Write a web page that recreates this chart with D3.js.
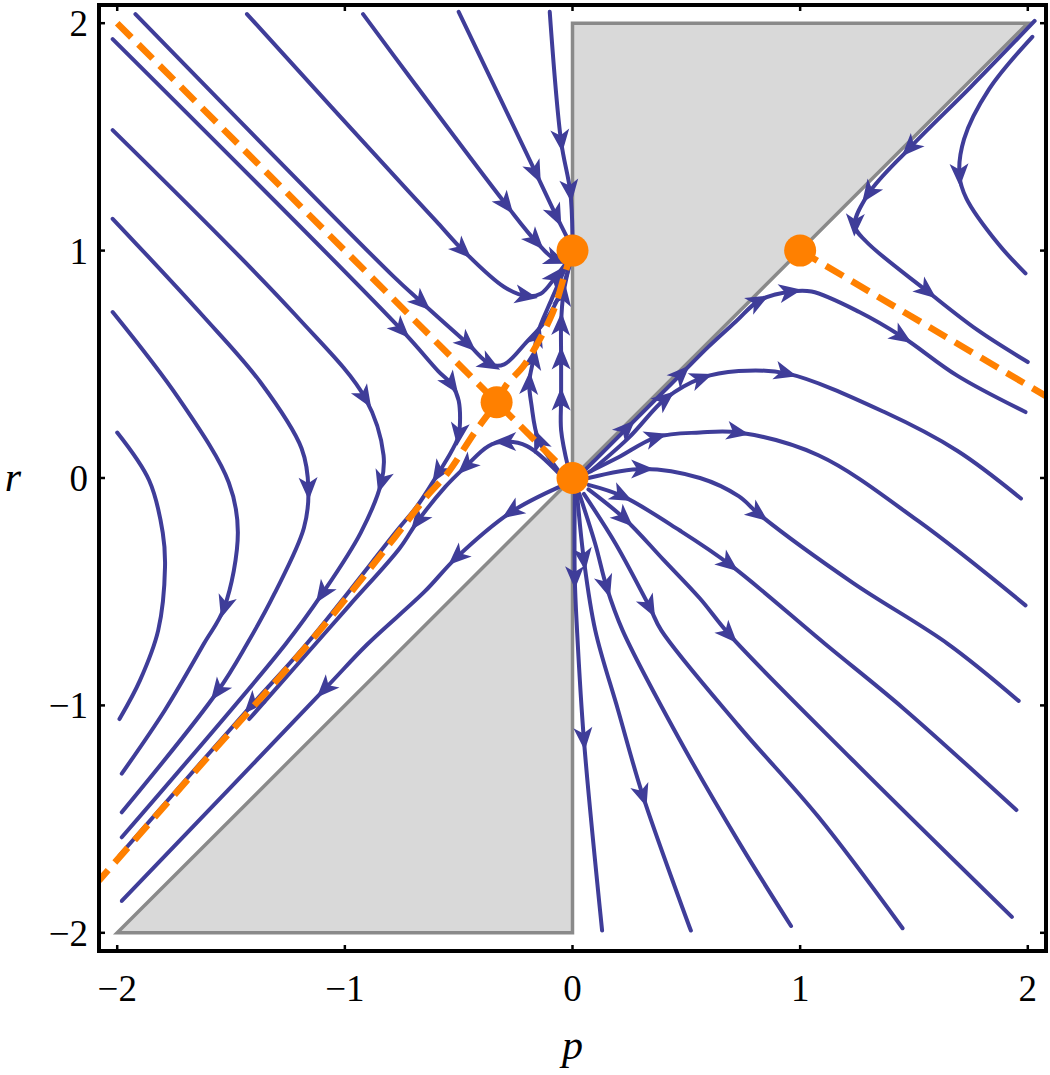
<!DOCTYPE html>
<html>
<head>
<style>
  body { margin: 0; background: #fff; }
  .tick-label { font-family: "Liberation Serif", "Times New Roman", serif; font-size: 37px; fill: #000; }
  .axis-title { font-family: "Liberation Serif", "Times New Roman", serif; font-style: italic; font-size: 42px; fill: #000; }
  .stream { stroke: #3f3d99; stroke-width: 4; fill: none; stroke-linecap: round; }
  .arrow { fill: #3f3d99; }
  .sep { stroke: #ff8000; stroke-width: 6.5; stroke-dasharray: 20 10; fill: none; }
  .region { fill: #d9d9d9; stroke: #8a8a8a; stroke-width: 3.5; }
</style>
</head>
<body>
<svg width="1050" height="1075"></svg>
<script src="https://d3js.org/d3.v7.min.js"></script>
<script>

// ticks
var xTicks = [-2, -1, 0, 1, 2];
var yTicks = [-2, -1, 0, 1, 2];

// fixed points and forbidden regions
var fixedPoints = [[0, 1], [-1/3, 1/3], [0, 0], [1, 1]];
var shadedRegions = [
  [[0, 0], [0, 2], [2, 2]],
  [[0, 0], [0, -2], [-2, -2]]
];

// orange dashed curves
var separatrices = [
  [[-2, 2], [0, 0]],
  [[0, 1], [-0.03, 0.91], [-0.09, 0.72], [-0.21, 0.50], [-0.29, 0.41], [-1/3, 1/3], [-0.43, 0.20],
   [-0.55, 0.02], [-0.64, -0.08], [-0.78, -0.26], [-1.16, -0.73], [-1.64, -1.27], [-2.08, -1.77]],
  [[1, 1], [2.08, 0.36]]
];

// streamlines running into the sink at (0,1)
var sinkLines = [
  {pts: [[-1.92,2.04],[-0.79,0.89],[-0.66,0.77],[-0.46,0.59],[-0.36,0.50],[-0.30,0.50],[-0.20,0.60],[-0.12,0.69],[-0.05,0.82],[-0.01,0.95]], arrows: [2,3,4]},
  {pts: [[-1.43,2.04],[-0.72,1.26],[-0.59,1.12],[-0.48,1.00],[-0.30,0.84],[-0.20,0.80],[-0.14,0.81],[-0.07,0.89],[-0.01,0.97]], arrows: [3,5,7]},
  {pts: [[-0.92,2.04],[-0.72,1.77],[-0.29,1.20],[-0.16,1.04],[-0.07,0.96],[-0.01,0.98]], arrows: [2,3,4]},
  {pts: [[-0.50,2.05],[-0.16,1.34],[-0.07,1.15],[-0.02,1.05]], arrows: [1,2]},
  {pts: [[-0.10,2.05],[-0.05,1.48],[-0.01,1.26],[0.0,1.07]], arrows: [1,2]},
  {pts: [[-0.02,0.05],[-0.05,0.21],[-0.05,0.35],[-0.05,0.53],[-0.05,0.68],[-0.04,0.81],[-0.01,0.95]], arrows: [2,3,4,5]},
  {pts: [[-0.06,0.03],[-0.15,0.17],[-0.18,0.32],[-0.19,0.42],[-0.17,0.53],[-0.155,0.63],[-0.09,0.79],[-0.02,0.95]], arrows: [1,3,4,5]}
];

// streamlines on the left half heading to the lower left
var leftLines = [
  {pts: [[-2.02,1.93],[-0.75,0.65],[-0.59,0.47],[-0.53,0.41],[-0.50,0.34],[-0.50,0.19],[-0.53,0.12],[-0.59,0.02],[-0.68,-0.12],[-0.77,-0.23],[-1.16,-0.72],[-1.41,-1.00],[-1.64,-1.26],[-1.99,-1.66]], arrows: [1,3,5,7,11]},
  {pts: [[-2.02,1.53],[-1.22,0.72],[-0.91,0.35],[-0.83,0.10],[-0.84,-0.02],[-0.93,-0.24],[-1.10,-0.51],[-1.26,-0.73],[-1.98,-1.58]], arrows: [2,4,6]},
  {pts: [[-2.02,1.14],[-1.63,0.72],[-1.37,0.42],[-1.19,0.13],[-1.16,-0.05],[-1.18,-0.22],[-1.31,-0.51],[-1.43,-0.73],[-1.56,-0.94],[-1.98,-1.47]], arrows: [4,8]},
  {pts: [[-2.02,0.73],[-1.73,0.35],[-1.51,-0.02],[-1.47,-0.24],[-1.53,-0.57],[-1.62,-0.73],[-1.79,-1.02],[-1.98,-1.30]], arrows: [4]},
  {pts: [[-2.00,0.20],[-1.86,-0.01],[-1.80,-0.24],[-1.79,-0.39],[-1.82,-0.67],[-1.90,-0.89],[-1.99,-1.06]], arrows: []},
  {pts: [[-0.06,0.02],[-0.20,0.14],[-0.30,0.16],[-0.37,0.14],[-0.47,0.05],[-0.56,-0.04],[-0.68,-0.19],[-0.76,-0.31],[-0.98,-0.56],[-1.20,-0.81],[-1.42,-1.06]], arrows: [2,4,6]},
  {pts: [[-0.06,-0.04],[-0.27,-0.15],[-0.51,-0.35],[-0.65,-0.50],[-0.90,-0.73],[-1.09,-0.93],[-1.98,-1.86]], arrows: [1,2,5]}
];

// streamlines leaving the source at (0,0) to the right
var rightLines = [
  {pts: [[0.05,0.03],[0.10,0.08],[0.24,0.22],[0.37,0.35],[0.48,0.46],[0.60,0.58],[0.72,0.69],[0.82,0.78],[0.96,0.82],[1.05,0.82],[1.26,0.73],[1.45,0.62],[1.69,0.45],[1.99,0.29]], arrows: [2,4,7,8,11]},
  {pts: [[0.08,0.03],[0.25,0.18],[0.41,0.35],[0.57,0.44],[0.73,0.47],[0.94,0.46],[1.37,0.29],[1.69,0.12],[1.97,-0.09]], arrows: [2,3,5]},
  {pts: [[0.06,0.02],[0.20,0.09],[0.37,0.18],[0.56,0.20],[0.73,0.20],[1.08,0.10],[1.52,-0.19],[1.99,-0.56]], arrows: [2,4]},
  {pts: [[0.07,0.00],[0.31,0.04],[0.56,0.00],[0.73,-0.08],[0.82,-0.16],[1.23,-0.46],[1.65,-0.73],[1.96,-0.98]], arrows: [1,4]},
  {pts: [[0.07,-0.03],[0.22,-0.08],[0.47,-0.23],[0.69,-0.38],[1.11,-0.73],[1.45,-1.01],[1.95,-1.46]], arrows: [1,3]},
  {pts: [[0.07,-0.05],[0.23,-0.18],[0.40,-0.36],[0.56,-0.53],[0.69,-0.69],[1.23,-1.24],[1.93,-1.93]], arrows: [1,4]},
  {pts: [[0.05,-0.07],[0.19,-0.29],[0.34,-0.57],[0.39,-0.67],[0.73,-1.09],[1.08,-1.49],[1.45,-1.98]], arrows: [2]},
  {pts: [[0.03,-0.07],[0.10,-0.29],[0.15,-0.48],[0.22,-0.67],[0.47,-1.15],[0.73,-1.60],[0.96,-1.97]], arrows: [2]},
  {pts: [[0.02,-0.07],[0.05,-0.36],[0.10,-0.67],[0.20,-1.02],[0.31,-1.40],[0.52,-1.99]], arrows: [1,4]},
  {pts: [[0.01,-0.07],[0.01,-0.44],[0.02,-0.67],[0.05,-1.15],[0.13,-1.99]], arrows: [1,3]}
];

// streamlines in the upper right corner
var cornerLines = [
  {pts: [[2.03,2.01],[1.75,1.72],[1.48,1.45],[1.30,1.25],[1.24,1.11],[1.29,1.04],[1.56,0.82],[1.78,0.65],[2.00,0.51]], arrows: [2,3,4,6]},
  {pts: [[2.02,1.94],[1.83,1.71],[1.72,1.49],[1.70,1.33],[1.73,1.23],[1.87,1.03],[1.99,0.90]], arrows: [3]}
];

var margin = {top: 5, right: 4, bottom: 124, left: 99},
    width = 1050 - margin.left - margin.right,
    height = 1075 - margin.top - margin.bottom;

var x = d3.scaleLinear().domain([-2.08, 2.08]).range([0, width]);
var y = d3.scaleLinear().domain([-2.08, 2.08]).range([height, 0]);

var svg = d3.select("svg")
  .append("g")
  .attr("transform", "translate(" + margin.left + "," + margin.top + ")");

svg.append("clipPath").attr("id", "plotclip")
  .append("rect").attr("width", width).attr("height", height);

var plot = svg.append("g").attr("clip-path", "url(#plotclip)");

// shaded triangles
var poly = d3.line().x(function(d) { return x(d[0]); }).y(function(d) { return y(d[1]); });
plot.selectAll(".region")
  .data(shadedRegions)
  .enter().append("path")
  .attr("class", "region")
  .attr("d", function(d) { return poly(d) + "Z"; });

// streamlines
var curve = d3.line()
  .x(function(d) { return x(d[0]); })
  .y(function(d) { return y(d[1]); })
  .curve(d3.curveCatmullRom.alpha(0.5));

var allLines = sinkLines.concat(leftLines, rightLines, cornerLines);

plot.selectAll(".stream")
  .data(allLines)
  .enter().append("path")
  .attr("class", "stream")
  .attr("d", function(d) { return curve(d.pts); });

// arrowheads, pointing along the local direction of the line
var heads = [];
allLines.forEach(function(l) {
  l.arrows.forEach(function(i) {
    var a = l.pts[Math.max(i - 1, 0)], b = l.pts[Math.min(i + 1, l.pts.length - 1)];
    var ang = Math.atan2(y(b[1]) - y(a[1]), x(b[0]) - x(a[0])) * 180 / Math.PI;
    heads.push({p: l.pts[i], ang: ang});
  });
});

plot.selectAll(".arrow")
  .data(heads)
  .enter().append("path")
  .attr("class", "arrow")
  .attr("d", "M11,0 L-12,-9.5 L-6,0 L-12,9.5 Z")
  .attr("transform", function(d) {
    return "translate(" + x(d.p[0]) + "," + y(d.p[1]) + ") rotate(" + d.ang + ")";
  });

// dashed separatrices
plot.selectAll(".sep")
  .data(separatrices)
  .enter().append("path")
  .attr("class", "sep")
  .attr("d", function(d) { return curve(d); });

// fixed points
plot.selectAll(".fp")
  .data(fixedPoints)
  .enter().append("circle")
  .attr("class", "fp")
  .attr("r", 16)
  .attr("fill", "#ff8000")
  .attr("cx", function(d) { return x(d[0]); })
  .attr("cy", function(d) { return y(d[1]); });

// frame
svg.append("rect")
  .attr("width", width).attr("height", height)
  .attr("fill", "none").attr("stroke", "#000").attr("stroke-width", 4);

// frame ticks on all four sides
var tk = 6;
xTicks.forEach(function(t) {
  svg.append("line").attr("x1", x(t)).attr("x2", x(t)).attr("y1", height).attr("y2", height - tk)
    .attr("stroke", "#000").attr("stroke-width", 2.5);
  svg.append("line").attr("x1", x(t)).attr("x2", x(t)).attr("y1", 0).attr("y2", tk)
    .attr("stroke", "#000").attr("stroke-width", 2.5);
  svg.append("text").attr("class", "tick-label")
    .attr("font-family", "Liberation Serif")
    .attr("x", x(t)).attr("y", height + 50)
    .attr("text-anchor", "middle")
    .text(t < 0 ? "\u2212" + Math.abs(t) : t);
});
yTicks.forEach(function(t) {
  svg.append("line").attr("x1", 0).attr("x2", tk).attr("y1", y(t)).attr("y2", y(t))
    .attr("stroke", "#000").attr("stroke-width", 2.5);
  svg.append("line").attr("x1", width).attr("x2", width - tk).attr("y1", y(t)).attr("y2", y(t))
    .attr("stroke", "#000").attr("stroke-width", 2.5);
  svg.append("text").attr("class", "tick-label")
    .attr("font-family", "Liberation Serif")
    .attr("x", -11).attr("y", y(t)).attr("dy", "0.35em")
    .attr("text-anchor", "end")
    .text(t < 0 ? "\u2212" + Math.abs(t) : t);
});

// axis titles
svg.append("text").attr("class", "axis-title")
  .attr("font-family", "Liberation Serif")
  .attr("x", width / 2).attr("y", height + 108)
  .attr("text-anchor", "middle").text("p");
svg.append("text").attr("class", "axis-title")
  .attr("font-family", "Liberation Serif")
  .attr("x", -86).attr("y", y(0)).attr("dy", "0.3em")
  .attr("text-anchor", "middle").text("r");

</script>
</body>
</html>
